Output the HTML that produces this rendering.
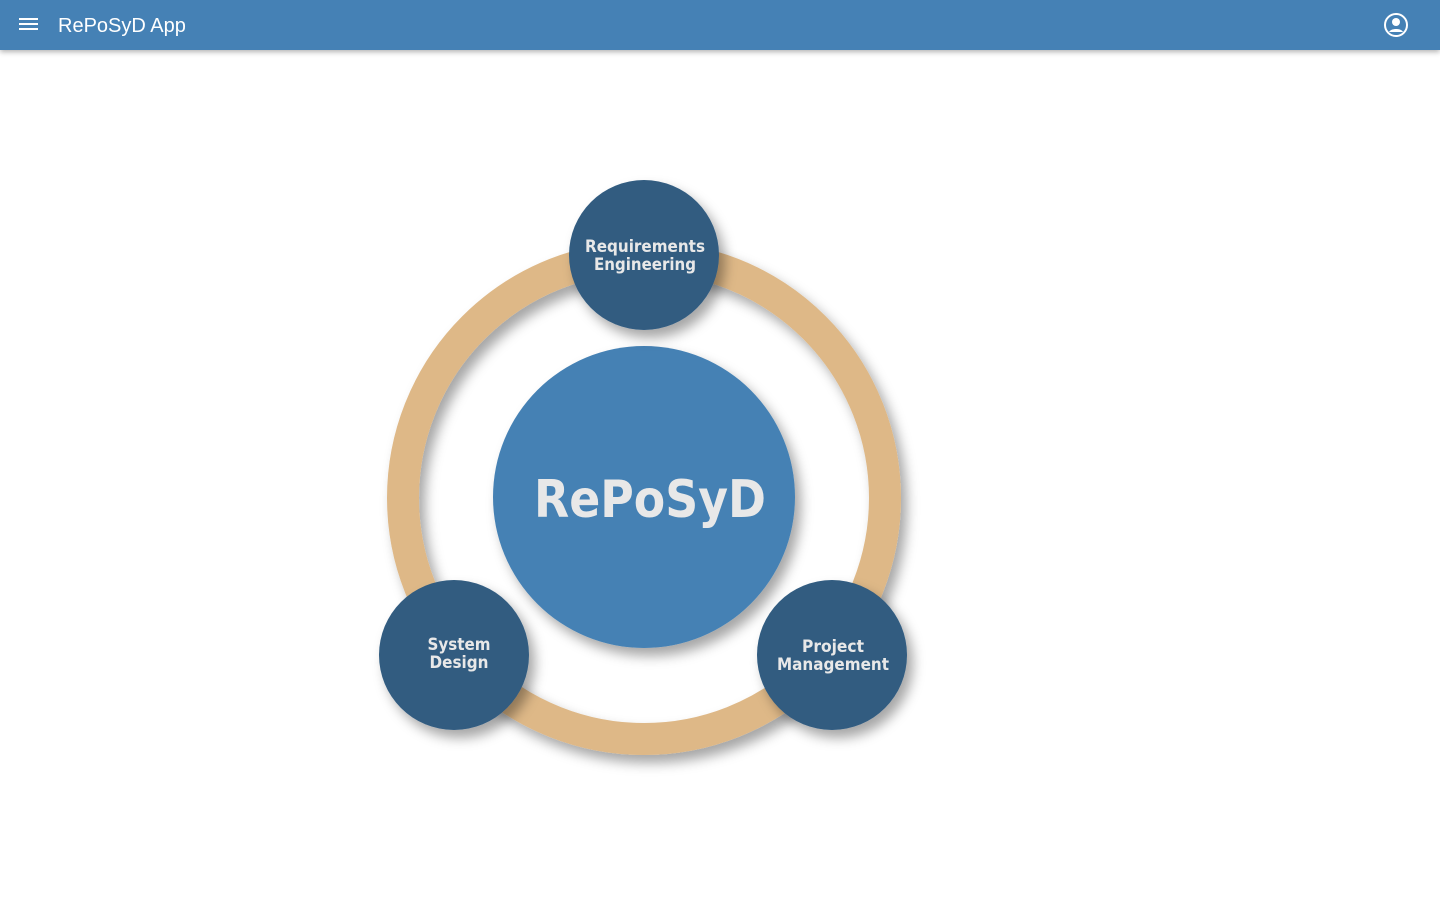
<!DOCTYPE html>
<html><head><meta charset="utf-8"><style>
body{margin:0;width:1440px;height:900px;background:#fff;overflow:hidden;font-family:"Liberation Sans",sans-serif}
.bar{position:absolute;left:0;top:0;width:1440px;height:50px;background:#4581b5;box-shadow:0 2px 5px rgba(0,0,0,.3);z-index:2}
.bar .t{position:absolute;left:58px;top:15px;color:#fff;font-size:20px}
.ham{position:absolute;left:19px;top:18px;width:19px;height:2px;background:#fff;box-shadow:0 5px 0 #fff,0 10px 0 #fff}
</style></head><body>
<div class="bar"><div class="ham"></div><div class="t">RePoSyD App</div>
<svg style="position:absolute;left:1383px;top:12px" width="26" height="26" viewBox="0 0 26 26"><circle cx="13" cy="13" r="11" fill="none" stroke="#fff" stroke-width="2"/><circle cx="13" cy="10" r="4" fill="#fff"/><path d="M6 20c2-4 12-4 14 0" fill="#fff"/></svg></div>
<svg width="1440" height="900" style="position:absolute;left:0;top:0">
<defs><filter id="s" x="-30%" y="-30%" width="160%" height="160%"><feDropShadow dx="6" dy="8" stdDeviation="6" flood-color="#000" flood-opacity="0.35"/></filter></defs>
<circle cx="644" cy="498" r="241" fill="none" stroke="#deb887" stroke-width="32" filter="url(#s)"/>
<circle cx="644" cy="497" r="151" fill="#4581b4" filter="url(#s)"/>
<circle cx="644" cy="255" r="75" fill="#305b80" filter="url(#s)"/>
<circle cx="454" cy="655" r="75" fill="#305b80" filter="url(#s)"/>
<circle cx="832" cy="655" r="75" fill="#305b80" filter="url(#s)"/>
<g fill="#e8e8e8" font-family="DejaVu Sans,sans-serif" font-weight="bold" text-anchor="middle" lengthAdjust="spacingAndGlyphs">
<text x="650" y="517" font-size="52" textLength="232" lengthAdjust="spacingAndGlyphs">RePoSyD</text>
<text x="645" y="252" font-size="17" textLength="120" lengthAdjust="spacingAndGlyphs">Requirements</text>
<text x="645" y="270" font-size="17" textLength="102" lengthAdjust="spacingAndGlyphs">Engineering</text>
<text x="459" y="650" font-size="17" textLength="63" lengthAdjust="spacingAndGlyphs">System</text>
<text x="459" y="668" font-size="17" textLength="59" lengthAdjust="spacingAndGlyphs">Design</text>
<text x="833" y="652" font-size="17" textLength="62" lengthAdjust="spacingAndGlyphs">Project</text>
<text x="833" y="670" font-size="17" textLength="112" lengthAdjust="spacingAndGlyphs">Management</text>
</g></svg>
</body></html>
